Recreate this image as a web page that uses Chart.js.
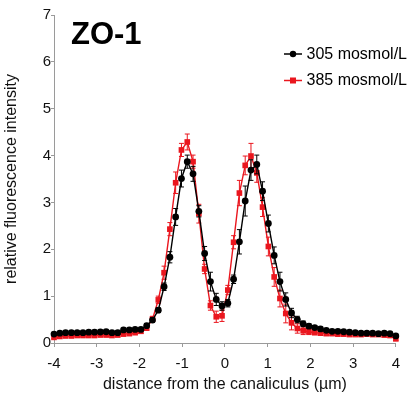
<!DOCTYPE html>
<html><head><meta charset="utf-8">
<script src="https://cdn.jsdelivr.net/npm/chart.js@4"></script>
<style>html,body{margin:0;padding:0;background:#fff;} canvas{display:block;}</style>
</head><body>
<canvas id="c" width="408" height="395"></canvas>
<script>
// distance from the canaliculus (µm)
const distance = [-4.000,-3.864,-3.729,-3.593,-3.458,-3.322,-3.186,-3.051,-2.915,-2.780,
  -2.644,-2.508,-2.373,-2.237,-2.102,-1.966,-1.831,-1.695,-1.559,-1.424,
  -1.288,-1.153,-1.017,-0.881,-0.746,-0.610,-0.475,-0.339,-0.203,-0.068,
  0.068,0.203,0.339,0.475,0.610,0.746,0.881,1.017,1.153,1.288,
  1.424,1.559,1.695,1.831,1.966,2.102,2.237,2.373,2.508,2.644,
  2.780,2.915,3.051,3.186,3.322,3.458,3.593,3.729,3.864,4.000];
// 305 mosmol/L
const osm305 = [0.19,0.21,0.22,0.22,0.22,0.22,0.23,0.23,0.235,0.24,
  0.22,0.22,0.28,0.28,0.29,0.29,0.37,0.49,0.70,1.20,
  1.83,2.69,3.51,3.87,3.61,2.81,1.91,1.31,0.93,0.79,
  0.85,1.36,2.16,3.03,3.69,3.81,3.24,2.55,1.87,1.31,
  0.93,0.64,0.50,0.41,0.36,0.33,0.30,0.27,0.25,0.25,
  0.24,0.23,0.22,0.21,0.21,0.21,0.20,0.21,0.20,0.15];
const osm305Err = [0.03,0.03,0.03,0.03,0.03,0.03,0.03,0.03,0.03,0.03,
  0.03,0.03,0.03,0.03,0.03,0.03,0.04,0.05,0.05,0.08,
  0.12,0.18,0.18,0.14,0.16,0.12,0.15,0.20,0.13,0.09,
  0.08,0.09,0.26,0.32,0.22,0.20,0.20,0.18,0.18,0.20,
  0.14,0.10,0.07,0.06,0.05,0.04,0.04,0.04,0.03,0.03,
  0.03,0.03,0.03,0.03,0.03,0.03,0.03,0.03,0.03,0.03];
// 385 mosmol/L
const osm385 = [0.12,0.14,0.15,0.15,0.16,0.16,0.16,0.16,0.17,0.17,
  0.16,0.17,0.19,0.20,0.22,0.25,0.32,0.51,0.92,1.50,
  2.43,3.42,4.12,4.29,3.87,2.76,1.58,0.80,0.56,0.58,
  1.13,2.15,3.20,3.79,3.99,3.63,2.90,2.06,1.41,0.95,
  0.63,0.43,0.31,0.26,0.24,0.22,0.21,0.20,0.20,0.19,
  0.19,0.18,0.18,0.18,0.19,0.18,0.18,0.17,0.16,0.09];
const osm385Err = [0.03,0.03,0.03,0.03,0.03,0.03,0.03,0.03,0.03,0.03,
  0.03,0.03,0.03,0.03,0.03,0.04,0.05,0.06,0.08,0.14,
  0.14,0.23,0.14,0.17,0.14,0.20,0.10,0.10,0.12,0.12,
  0.10,0.14,0.27,0.20,0.27,0.20,0.20,0.20,0.20,0.18,
  0.20,0.15,0.10,0.08,0.06,0.04,0.04,0.04,0.04,0.04,
  0.04,0.04,0.04,0.04,0.04,0.04,0.04,0.04,0.04,0.04];
const seriesNames = ['305 mosmol/L', '385 mosmol/L'];
const xTicks = [-4,-3,-2,-1,0,1,2,3,4];
const yTicks = [0,1,2,3,4,5,6,7];
const panelTitle = 'ZO-1';
const xTitle = 'distance from the canaliculus (\u00b5m)';
const yTitle = 'relative fluorescence intensity';

const BLACK = '#000000';
const RED = 'rgb(234,22,30)';
const FONT = '"Liberation Sans", Arial, Helvetica, sans-serif';

function pts(ys) { return distance.map((x, i) => ({ x: x, y: ys[i] })); }

const errorBars = {
  id: 'errorBars',
  beforeDatasetDraw(chart, args) {
    const ds = chart.data.datasets[args.index];
    if (!ds.errors) return;
    const ys = chart.scales.y, ctx = chart.ctx;
    ctx.save();
    ctx.strokeStyle = ds.borderColor;
    ctx.lineWidth = 1;
    args.meta.data.forEach((el, i) => {
      const v = ds.data[i].y, e = ds.errors[i];
      const top = ys.getPixelForValue(v + e), bot = ys.getPixelForValue(v - e);
      const x = el.x;
      ctx.beginPath();
      ctx.moveTo(x, top); ctx.lineTo(x, bot);
      ctx.moveTo(x - 2.5, top); ctx.lineTo(x + 2.5, top);
      ctx.moveTo(x - 2.5, bot); ctx.lineTo(x + 2.5, bot);
      ctx.stroke();
    });
    ctx.restore();
  }
};

const decorations = {
  id: 'decorations',
  afterDraw(chart) {
    const ctx = chart.ctx;
    ctx.save();
    ctx.fillStyle = '#000';
    ctx.font = 'bold 31px ' + FONT;
    ctx.textBaseline = 'alphabetic';
    ctx.textAlign = 'left';
    ctx.fillText(panelTitle, 71, 43.5);
    // legend
    const items = [
      { name: seriesNames[0], color: BLACK, style: 'circle', y: 54 },
      { name: seriesNames[1], color: RED, style: 'rect', y: 80.5 }
    ];
    items.forEach(it => {
      ctx.strokeStyle = it.color; ctx.lineWidth = 1.5;
      ctx.beginPath(); ctx.moveTo(284, it.y); ctx.lineTo(302, it.y); ctx.stroke();
      ctx.fillStyle = it.color;
      if (it.style === 'circle') { ctx.beginPath(); ctx.arc(293, it.y, 3.2, 0, Math.PI * 2); ctx.fill(); }
      else { ctx.fillRect(290, it.y - 3, 6, 6); }
      ctx.fillStyle = '#000';
      ctx.font = '16px ' + FONT;
      ctx.textBaseline = 'middle';
      ctx.fillText(it.name, 306.5, it.y + 0.5);
    });
    ctx.restore();
  }
};

new Chart(document.getElementById('c'), {
  type: 'line',
  data: {
    datasets: [
      { label: seriesNames[0], data: pts(osm305), errors: osm305Err,
        borderColor: BLACK, backgroundColor: BLACK, borderWidth: 1.4, clip: false,
        pointStyle: 'circle', pointRadius: 3.4, pointBorderWidth: 0, tension: 0 },
      { label: seriesNames[1], data: pts(osm385), errors: osm385Err,
        borderColor: RED, backgroundColor: RED, borderWidth: 1.4, clip: false,
        pointStyle: 'rect', pointRadius: 4.0, pointBorderWidth: 0, tension: 0 }
    ]
  },
  options: {
    responsive: false, animation: false, devicePixelRatio: 1,
    layout: { padding: { top: 15, right: 10, left: 0, bottom: 0 } },
    plugins: { legend: { display: false }, tooltip: { enabled: false } },
    scales: {
      x: {
        type: 'linear', min: -4, max: 4,
        afterBuildTicks: s => { s.ticks = xTicks.map(v => ({ value: v })); },
        afterFit: s => { s.height = 52; },
        ticks: { color: '#111', font: { family: FONT, size: 15 }, padding: 8, maxRotation: 0 },
        grid: { drawOnChartArea: false, drawTicks: true, tickLength: 4, color: '#9a9a9a' },
        border: { color: '#9a9a9a', width: 1 },
        title: { display: true, text: xTitle, color: '#111', font: { family: FONT, size: 16 }, padding: { top: 0, bottom: 1 } }
      },
      y: {
        type: 'linear', min: 0, max: 7,
        afterBuildTicks: s => { s.ticks = yTicks.map(v => ({ value: v })); },
        afterFit: s => { s.width = 54; },
        ticks: { color: '#111', font: { family: FONT, size: 15 }, padding: 0 },
        grid: { drawOnChartArea: false, drawTicks: true, tickLength: 3, color: '#9a9a9a' },
        border: { color: '#9a9a9a', width: 1 },
        title: { display: true, text: yTitle, color: '#111', font: { family: FONT, size: 16 }, padding: { top: 2, bottom: 0 } }
      }
    }
  },
  plugins: [errorBars, decorations]
});
</script>
</body></html>
